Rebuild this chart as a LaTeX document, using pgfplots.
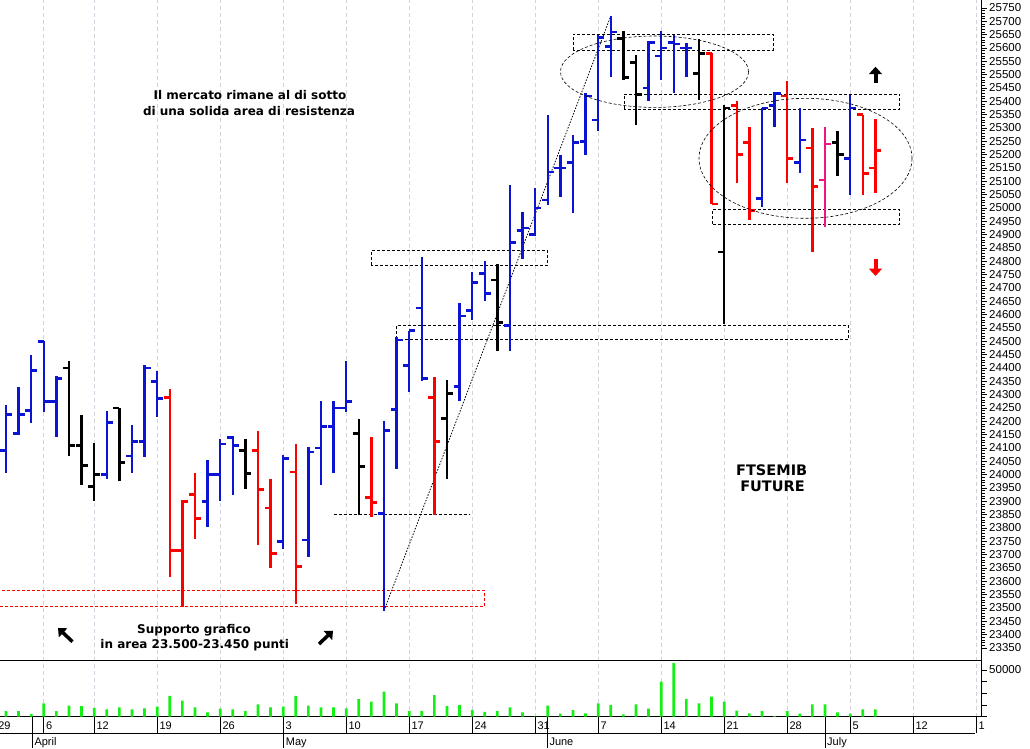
\documentclass[border=0pt]{standalone}
\usepackage{fontspec}
\setmainfont{Liberation Sans}
\newfontfamily\annot{DejaVu Sans}
\usepackage{pgfplots}
\usepackage{pgfplotstable}
\pgfplotsset{compat=1.18}
\usetikzlibrary{arrows.meta}

\definecolor{barblue}{RGB}{10,20,210}
\definecolor{barred}{RGB}{255,0,0}
\definecolor{barpink}{RGB}{240,20,130}
\definecolor{volgreen}{RGB}{20,240,20}
\definecolor{gridc}{RGB}{210,210,222}

% open tick to the left, close tick to the right
\pgfdeclareplotmark{otick}{\pgfpathmoveto{\pgfqpoint{-6pt}{0pt}}\pgfpathlineto{\pgfqpoint{0pt}{0pt}}\pgfusepathqstroke}
\pgfdeclareplotmark{ctick}{\pgfpathmoveto{\pgfqpoint{0pt}{0pt}}\pgfpathlineto{\pgfqpoint{6pt}{0pt}}\pgfusepathqstroke}

% daily bars, i = trading day
\pgfplotstableread{
i o h l c
0 24090 24260 24005 24225
1 24155 24330 24150 24225
2 24240 24450 24195 24390
3 24500 24500 24235 24275
4 24275 24370 24140 24360
8 24000 24240 23985 24195
10 24070 24185 24005 24125
11 24125 24410 24065 24400
12 24350 24390 24215 24285
16 23900 24055 23805 24000
17 24000 24135 23900 24115
18 24140 24145 23925 24110
22 23750 24075 23720 24060
24 23755 24105 23690 24085
25 24100 24275 23960 24180
26 24180 24275 24005 24250
27 24250 24425 24235 24275
30 23855 24200 23490 24165
31 24245 24515 24020 24505
32 24410 24540 24310 24540
33 24625 24815 24350 24360
36 24330 24645 24275 24595
37 24615 24760 24580 24720
38 24755 24800 24650 24680
40 24560 25085 24465 24870
41 24915 24985 24810 24925
42 24900 25075 24895 25000
43 25030 25350 25010 25135
44 25150 25200 25040 25150
45 25170 25275 24980 25245
46 25250 25430 25200 25420
47 25330 25650 25290 25640
48 25605 25720 25490 25660
51 25450 25625 25400 25620
52 25570 25665 25480 25600
53 25620 25650 25430 25615
54 25600 25620 25490 25600
60 25035 25375 25005 25375
61 25385 25435 25305 25430
63 25170 25375 25130 25255
67 25185 25425 25050 25375
}\tblue

\pgfplotstableread{
i o h l c
5 24400 24425 24070 24110
6 24110 24225 23960 24035
7 23955 24120 23900 24000
9 24250 24250 23975 24045
19 24090 24135 23945 24005
28 24155 24210 23850 24030
35 24210 24355 23985 24305
39 24730 24790 24465 24570
49 25635 25665 25480 25490
50 25545 25575 25310 25425
55 25505 25635 25405 25580
57 24835 25385 24565 25375
66 25245 25290 25120 25200
}\tblack

\pgfplotstableread{
i o h l c
13 24290 24320 23615 23715
14 23715 23905 23505 23900
15 23925 24005 23760 23835
20 24090 24165 23735 23945
21 23875 23985 23650 23705
23 24010 24115 23515 23655
29 23915 24140 23840 23895
34 24290 24365 23850 24125
56 25580 25580 25015 25015
58 25385 25400 25095 25200
59 25245 25305 24955 24990
62 25420 25475 25095 25185
64 25225 25300 24835 25080
68 25350 25350 25050 25130
69 25150 25335 25055 25215
}\tred

\pgfplotstableread{
i o h l c
65 25105 25305 24930 25240
}\tpink

\pgfplotstableread{
i v
0 6100
1 6100
2 2900
3 14300
4 6100
5 11800
6 11400
7 9600
8 7900
9 10000
10 7900
11 8900
12 10700
13 22200
14 17200
15 10000
16 4600
17 8600
18 7900
19 6100
20 13200
21 10000
22 10700
23 22200
24 11800
25 10000
26 10000
27 8900
28 18900
29 16100
30 26800
31 14300
32 6100
33 6100
34 23200
35 11400
36 12500
37 7100
38 5300
39 6100
40 10000
41 4600
42 300
43 11800
44 3200
45 7100
46 3600
47 14300
48 12500
49 2500
50 13200
51 8600
52 37500
53 57500
54 19000
55 14300
56 21400
57 16100
58 6400
59 3600
60 6100
61 700
62 6100
63 3200
64 13200
65 13200
66 4600
67 3200
68 7900
69 7900
}\tvol

\newcommand\ohlc[2]{%
  \addplot[draw=none, mark=none, error bars/.cd, y dir=both, y explicit,
    error mark=none, error bar style={line width=2.4pt, draw=#2, solid}]
    table[x=i, y expr={(\thisrow{h}+\thisrow{l})/2},
          y error expr={(\thisrow{h}-\thisrow{l})/2}] {#1};
  \addplot[#2, only marks, mark=otick, mark options={line width=2.4pt}] table[x=i, y=o] {#1};
  \addplot[#2, only marks, mark=ctick, mark options={line width=2.4pt}] table[x=i, y=c] {#1};
}

\pgfplotsset{
  chart/.style={
    scale only axis, width=981.7pt,
    xmin=-0.476, xmax=77.44,
    axis x line*=bottom, axis y line*=right,
    axis line style={-, line width=1pt},
    xtick={3,7,12,17,22,27,32,37,42,47,52,57,62,67,72,77},
    xticklabels={}, x tick style={draw=none},
    xmajorgrids, major x grid style={gridc, dash pattern=on 4pt off 3pt, line width=0.6pt},
    tick align=outside, major tick length=5pt, minor tick length=3pt,
    y tick style={line width=0.7pt, black},
    yticklabel style={font=\fontsize{11.5}{12}\selectfont, xshift=-1pt},
    scaled y ticks=false,
    /pgf/number format/1000 sep={},
    /pgf/number format/assume math mode=true,
  },
}

\begin{document}
\begin{tikzpicture}
\path[use as bounding box] (0,0) rectangle (1030pt,-748pt);
\clip (0,0) rectangle (1030pt,-748pt);

\begin{axis}[chart,
  at={(0pt,0pt)}, anchor=north west, height=660.7pt,
  ymin=23302.4, ymax=25780,
  ytick={23350,23400,...,25750}, minor y tick num=4,
]
  % support / resistance zones
  \draw[barred, line width=0.9pt, dash pattern=on 3pt off 2pt]
    (axis cs:-1,23506) rectangle (axis cs:38,23566);
  \begin{scope}[black, line width=0.9pt, dash pattern=on 3pt off 2pt]
    \draw (axis cs:45.0,25592) rectangle (axis cs:60.9,25651);
    \draw (axis cs:49.05,25371) rectangle (axis cs:70.95,25427);
    \draw (axis cs:56.1,24940) rectangle (axis cs:70.95,24995);
    \draw (axis cs:31.0,24508) rectangle (axis cs:66.9,24558);
    \draw (axis cs:29.0,24786) rectangle (axis cs:43.0,24840);
    \draw (axis cs:26,23851) -- (axis cs:36.8,23851);
  \end{scope}
  \draw[black, line width=0.8pt, dash pattern=on 1.5pt off 1.5pt]
    (axis cs:30,23490) -- (axis cs:48,25720);

  \ohlc{\tblue}{barblue}
  \ohlc{\tblack}{black}
  \ohlc{\tred}{barred}
  \ohlc{\tpink}{barpink}
\end{axis}

\begin{axis}[chart,
  at={(0pt,-660.7pt)}, anchor=north west, height=56pt,
  ymin=0, ymax=59960,
  ytick={0,12500,25000,37500,50000}, yticklabels={,,,,50000},
]
  \addplot[ybar, bar width=2.7pt, fill=volgreen, draw=none] table[x=i, y=v] {\tvol};
\end{axis}

\begin{scope}[x=1pt, y=1pt]
  % date scale under the volume panel
  \draw[line width=1pt] (0,-733.3) -- (975,-733.3);
  \foreach \t/\lab in {-0.8/29,3/6,7/12,12/19,17/26,22/3,27/10,32/17,37/24,42/31,47/7,52/14,57/21,62/28,67/5,72/12,77/1}{
    \draw[line width=1pt] ({6+12.6*\t},-716.7) -- ({6+12.6*\t},-733.3);
    \node[anchor=base west, inner sep=0pt, font=\fontsize{11}{11}\selectfont]
      at ({8.2+12.6*\t},-729.5) {\lab};
  }
  \foreach \x/\m in {32.3/April,283.7/May,547.3/June,825/July}{
    \draw[line width=1pt] (\x,-716.7) -- (\x,-748);
    \node[anchor=base west, inner sep=0pt, font=\fontsize{11}{11}\selectfont]
      at (\x+2,-745.5) {\m};
  }

  % ellipses
  \draw[line width=0.6pt, dash pattern=on 3pt off 2pt] (654.5,-71.7) ellipse [x radius=94, y radius=35.7];
  \draw[line width=0.6pt, dash pattern=on 3pt off 2pt] (805.5,-158.3) ellipse [x radius=106.5, y radius=60];

  % arrows
  \draw[line width=4pt, -{Triangle[length=7.5pt, width=13pt]}] (875.5,-83.3) -- (875.5,-66.7);
  \draw[barred, line width=4pt, -{Triangle[length=7.5pt, width=13pt]}] (875.5,-259.3) -- (875.5,-276);
  \draw[line width=3.5pt, -{Triangle[length=7pt, width=12pt]}] (72.5,-641.7) -- (58,-628);
  \draw[line width=3.5pt, -{Triangle[length=7pt, width=12pt]}] (319,-644) -- (333,-630.7);

  % comments
  \begin{scope}[every node/.style={anchor=base, inner sep=0pt,
      font=\annot\bfseries\fontsize{12}{12}\selectfont}]
    \node at (250,-99) {Il mercato rimane al di sotto};
    \node at (249,-115.7) {di una solida area di resistenza};
    \node at (194,-633.3) {Supporto grafico};
    \node at (194.7,-648.3) {in area 23.500-23.450 punti};
    \node[font=\annot\bfseries\fontsize{14.5}{14.5}\selectfont] at (771.7,-475) {FTSEMIB};
    \node[font=\annot\bfseries\fontsize{14.5}{14.5}\selectfont] at (772.5,-491.7) {FUTURE};
  \end{scope}
\end{scope}
\end{tikzpicture}
\end{document}
